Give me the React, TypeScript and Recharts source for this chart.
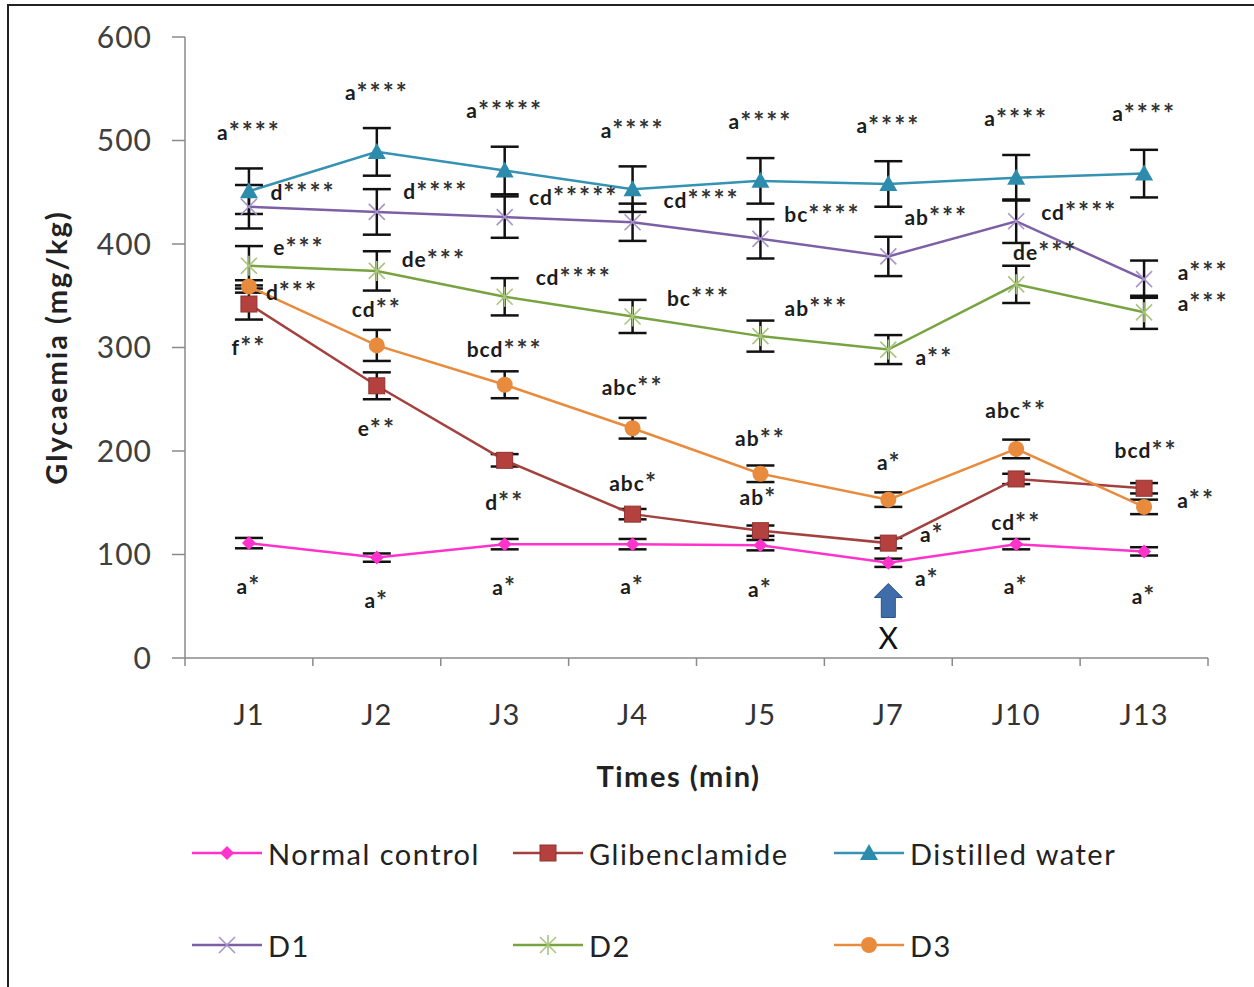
import React from "react";
import { LineChart, Line, XAxis, YAxis, ErrorBar, LabelList, ReferenceDot } from "recharts";

// days of measurement
const days = ["J1", "J2", "J3", "J4", "J5", "J7", "J10", "J13"];

// glycaemia (mg/kg) per group
const normal = [111, 97, 110, 110, 109, 92, 110, 103];
const normalErr = [5, 4, 5, 5, 5, 4, 5, 4];
const glib = [342, 263, 191, 139, 123, 111, 173, 164];
const glibErr = [15, 13, 6, 5, 5, 5, 5, 5];
const water = [451, 489, 471, 453, 461, 458, 464, 468];
const waterErr = [22, 23, 23, 22, 22, 22, 22, 23];
const d1 = [436, 431, 426, 421, 405, 388, 422, 366];
const d1Err = [21, 22, 20, 18, 19, 19, 21, 18];
const d2 = [379, 374, 349, 330, 311, 298, 361, 334];
const d2Err = [19, 19, 18, 16, 15, 14, 18, 16];
const d3 = [359, 302, 264, 222, 178, 153, 202, 146];
const d3Err = [6, 15, 13, 10, 8, 7, 9, 7];

// significance letters
const normalLbl = ["a*", "a*", "a*", "a*", "a*", "a*", "a*", "a*"];
const glibLbl = ["f**", "e**", "d**", "abc*", "ab*", "a*", "cd**", "a**"];
const waterLbl = ["a****", "a****", "a*****", "a****", "a****", "a****", "a****", "a****"];
const d1Lbl = ["d****", "d****", "cd*****", "cd****", "bc****", "ab***", "cd****", "a***"];
const d2Lbl = ["e***", "de***", "cd****", "bc***", "ab***", "a**", "de***", "a***"];
const d3Lbl = ["d***", "cd**", "bcd***", "abc**", "ab**", "a*", "abc**", "bcd**"];

const yTicks = [0, 100, 200, 300, 400, 500, 600];

// arrow marking the day X
const arrowDay = "J7";
const arrowTip = 72;
const arrowMark = "X";

// label offsets from their point (px)
const normalOff = [[0, 42], [0, 42], [0, 42], [0, 41], [0, 43], [39, 15], [0, 41], [0, 44]];
const glibOff = [[0, 42], [0, 42], [0, 41], [1, -32], [-2, -34], [44, -10], [0, 43], [52, 11]];
const waterOff = [[0, -60], [0, -60], [0, -61], [0, -60], [0, -60], [0, -59], [0, -60], [0, -61]];
const d1Off = [[54, -15], [59, -21], [69, -21], [69, -23], [62, -25], [48, -40], [63, -10], [59, -8]];
const d2Off = [[50, -19], [57, -12], [69, -20], [66, -19], [56, -29], [46, 7], [29, -33], [59, -10]];
const d3Off = [[43, 5], [0, -37], [0, -36], [0, -42], [0, -36], [1, -38], [0, -39], [2, -57]];

const rows = days.map((day, i) => ({
  x: i + 0.5,
  day,
  normal: normal[i], normalErr: normalErr[i], normalLbl: normalLbl[i],
  glib: glib[i], glibErr: glibErr[i], glibLbl: glibLbl[i],
  water: water[i], waterErr: waterErr[i], waterLbl: waterLbl[i],
  d1: d1[i], d1Err: d1Err[i], d1Lbl: d1Lbl[i],
  d2: d2[i], d2Err: d2Err[i], d2Lbl: d2Lbl[i],
  d3: d3[i], d3Err: d3Err[i], d3Lbl: d3Lbl[i],
}));

const FONT = "Lato, 'Open Sans', sans-serif";
const AXIS = "#8a8a8a";

const series = [
  { key: "normal", name: "Normal control", color: "#FF33CC", marker: "diamond", off: normalOff },
  { key: "glib", name: "Glibenclamide", color: "#A4403D", marker: "square", off: glibOff },
  { key: "water", name: "Distilled water", color: "#3592B2", marker: "triangle", off: waterOff },
  { key: "d1", name: "D1", color: "#7D5FA6", marker: "cross", off: d1Off },
  { key: "d2", name: "D2", color: "#77A340", marker: "star", off: d2Off },
  { key: "d3", name: "D3", color: "#E88B3D", marker: "circle", off: d3Off },
];

function Marker({ type, cx, cy }: { type: string; cx: number; cy: number }) {
  switch (type) {
    case "diamond":
      return <polygon points={`${cx},${cy - 7} ${cx + 7},${cy} ${cx},${cy + 7} ${cx - 7},${cy}`} fill="#FF33CC" />;
    case "square":
      return <rect x={cx - 8} y={cy - 8} width={16} height={16} fill="#B5413E" stroke="#8E3431" strokeWidth={1} />;
    case "triangle":
      return <polygon points={`${cx},${cy - 9} ${cx + 9},${cy + 7} ${cx - 9},${cy + 7}`} fill="#2D8BAC" />;
    case "cross":
      return (
        <g stroke="#A793C9" strokeWidth={1.6}>
          <line x1={cx - 8} y1={cy - 8} x2={cx + 8} y2={cy + 8} />
          <line x1={cx - 8} y1={cy + 8} x2={cx + 8} y2={cy - 8} />
        </g>
      );
    case "star":
      return (
        <g stroke="#A9C47F" strokeWidth={1.6}>
          <line x1={cx - 8} y1={cy - 8} x2={cx + 8} y2={cy + 8} />
          <line x1={cx - 8} y1={cy + 8} x2={cx + 8} y2={cy - 8} />
          <line x1={cx} y1={cy - 10} x2={cx} y2={cy + 10} />
        </g>
      );
    default:
      return <circle cx={cx} cy={cy} r={8} fill="#E88B3D" />;
  }
}

const makeDot = (type: string) => (p: any) => (
  <g key={`${type}-${p.index}`}>
    <Marker type={type} cx={p.cx} cy={p.cy} />
  </g>
);

const makeLabel = (off: number[][]) => (p: any) => {
  const [dx, dy] = off[p.index] || [0, 0];
  const txt = String(p.value);
  const cut = txt.indexOf("*");
  const letters = cut < 0 ? txt : txt.slice(0, cut);
  const stars = cut < 0 ? "" : txt.slice(cut);
  return (
    <text
      key={`lbl-${p.index}-${p.value}`}
      x={p.x + dx}
      y={p.y + dy}
      textAnchor="middle"
      dominantBaseline="central"
      fontFamily={FONT}
      fontWeight="bold"
      fontSize={21}
      letterSpacing={1}
      fill="#1c1c1c"
    >
      {letters}
      <tspan fontSize={26} fill="#333" letterSpacing={2}>{stars}</tspan>
    </text>
  );
};

const renderXTick = (p: any) => {
  const v = p.payload.value;
  if (Number.isInteger(v)) {
    return (
      <g>
        <line x1={p.x} x2={p.x} y1={p.y} y2={p.y + 8} stroke={AXIS} strokeWidth={1.5} />
      </g>
    );
  }
  return (
    <g>
      <text x={p.x} y={p.y + 55} textAnchor="middle" dominantBaseline="central" fontFamily={FONT} fontSize={29} letterSpacing={1} fill="#333">
        {days[Math.floor(v)]}
      </text>
    </g>
  );
};

const renderArrow = (p: any) => {
  const { cx, cy } = p;
  const pts = [
    [cx, cy], [cx + 14, cy + 14], [cx + 7, cy + 14], [cx + 7, cy + 34],
    [cx - 7, cy + 34], [cx - 7, cy + 14], [cx - 14, cy + 14],
  ].map((q) => q.join(",")).join(" ");
  return (
    <g>
      <polygon points={pts} fill="#3E6DAA" stroke="#2C5182" strokeWidth={1} />
      <text x={cx} y={cy + 54} textAnchor="middle" dominantBaseline="central" fontFamily={FONT} fontSize={30} fill="#111">
        {arrowMark}
      </text>
    </g>
  );
};

const xTicks = Array.from({ length: days.length * 2 + 1 }, (_, i) => i / 2);

export default function App() {
  return (
    <div style={{ position: "absolute", left: 0, top: 0, width: 1254, height: 987, background: "#fff", overflow: "hidden" }}>
      <div style={{ position: "absolute", left: 7, top: 4, width: 1260, height: 1000, borderTop: "2px solid #222", borderLeft: "2px solid #222" }} />
      <div style={{ position: "absolute", left: 0, top: 0 }}>
        <LineChart width={1254} height={800} data={rows} margin={{ top: 37, right: 46, left: 8, bottom: 10 }}>
          <XAxis
            dataKey="x"
            type="number"
            domain={[0, days.length]}
            ticks={xTicks}
            interval={0}
            tick={renderXTick}
            tickLine={false}
            tickSize={0}
            tickMargin={0}
            height={132}
            axisLine={{ stroke: AXIS, strokeWidth: 1.5 }}
            label={{
              content: ({ viewBox }: any) => (
                <text x={viewBox.x + viewBox.width / 2 - 18} y={viewBox.y + 117} textAnchor="middle" dominantBaseline="central" fontFamily={FONT} fontWeight="bold" fontSize={29} letterSpacing={1.5} fill="#222">
                  Times (min)
                </text>
              ),
            }}
          />
          <YAxis
            type="number"
            domain={[0, 600]}
            ticks={yTicks}
            width={177}
            tickSize={13}
            tickMargin={20}
            tick={{ fontSize: 30, fill: "#404040", fontFamily: FONT, letterSpacing: 1 }}
            tickLine={{ stroke: AXIS, strokeWidth: 1.5 }}
            axisLine={{ stroke: AXIS, strokeWidth: 1.5 }}
            label={{
              content: ({ viewBox }: any) => {
                const cx = viewBox.x + 47;
                const cy = viewBox.y + viewBox.height / 2;
                return (
                  <text x={cx} y={cy} transform={`rotate(-90 ${cx} ${cy})`} textAnchor="middle" dominantBaseline="central" fontFamily={FONT} fontWeight="bold" fontSize={29} letterSpacing={2} fill="#222">
                    Glycaemia (mg/kg)
                  </text>
                );
              },
            }}
          />
          {series.map((s) => (
            <Line
              key={s.key}
              dataKey={s.key}
              name={s.name}
              type="linear"
              stroke={s.color}
              strokeWidth={2.5}
              dot={makeDot(s.marker)}
              activeDot={false}
              isAnimationActive={false}
            >
              <ErrorBar dataKey={`${s.key}Err`} direction="y" width={14} stroke="#111" strokeWidth={2.5} isAnimationActive={false} />
              <LabelList dataKey={`${s.key}Lbl`} content={makeLabel(s.off)} />
            </Line>
          ))}
          <ReferenceDot x={days.indexOf(arrowDay) + 0.5} y={arrowTip} r={0} shape={renderArrow} />
        </LineChart>
      </div>
      <div
        style={{
          position: "absolute",
          left: 192,
          top: 833,
          display: "grid",
          gridTemplateColumns: "321px 321px 321px",
          rowGap: 52,
          fontFamily: FONT,
          fontSize: 29,
          letterSpacing: 1.5,
          color: "#222",
        }}
      >
        {series.map((s) => (
          <div key={s.key} style={{ display: "flex", alignItems: "center", height: 40 }}>
            <svg width={76} height={40} style={{ flex: "none" }}>
              <line x1={0} x2={70} y1={20} y2={20} stroke={s.color} strokeWidth={2.5} />
              <Marker type={s.marker} cx={35} cy={20} />
            </svg>
            <span>{s.name}</span>
          </div>
        ))}
      </div>
    </div>
  );
}
